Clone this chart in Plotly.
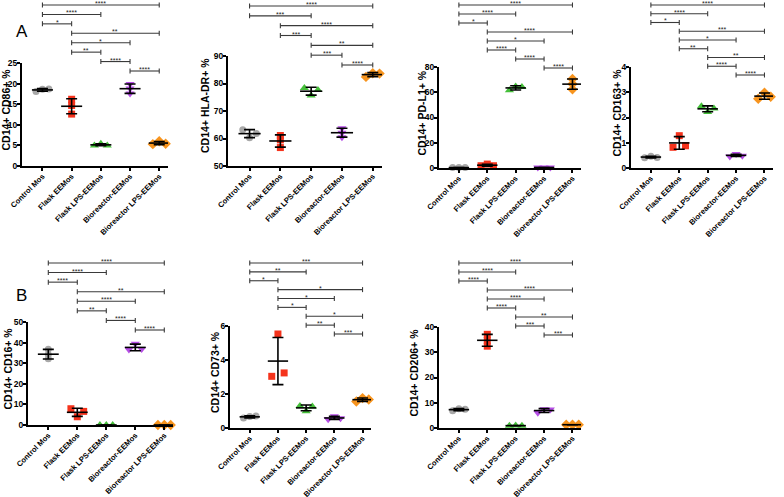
import numpy as np
import plotly.graph_objects as go

# groupes de l'expérience
groups = ["Control Mos", "Flask EEMos", "Flask LPS-EEMos", "Bioreactor-EEMos", "Bioreactor LPS-EEMos"]

# valeurs (3 réplicats par groupe)
cd86 = [[18.1, 18.6, 18.7], [16.2, 14.7, 12.6], [5.0, 5.4, 5.0], [19.9, 18.8, 17.6], [5.3, 6.0, 5.4]]
hla_dr = [[63.2, 60.3, 61.8], [61.1, 59.5, 56.7], [78.4, 75.6, 77.6], [63.7, 62.1, 60.5], [82.4, 83.7, 83.6]]
pd_l1 = [[0.3, 0.3, 0.3], [1.8, 3.1, 1.8], [61.5, 64.6, 64.2], [0.4, 0.4, 0.4], [70.5, 66.5, 62.3]]
cd163 = [[0.41, 0.47, 0.42], [0.82, 1.28, 0.88], [2.45, 2.22, 2.36], [0.46, 0.55, 0.49], [2.74, 2.98, 2.82]]
cd16 = [[36.8, 34.2, 32.1], [7.9, 4.0, 6.6], [0.0, 0.0, 0.0], [36.6, 39.5, 36.9], [0.0, 0.0, 0.0]]
cd73 = [[0.59, 0.67, 0.71], [3.04, 5.53, 3.24], [1.30, 0.99, 1.26], [0.51, 0.69, 0.57], [1.56, 1.76, 1.68]]
cd206 = [[6.8, 7.6, 7.4], [37.1, 34.7, 32.4], [0.9, 1.0, 0.9], [6.0, 7.4, 7.3], [1.3, 1.3, 1.3]]

# comparaisons (groupe i, groupe j, significativité), du haut vers le bas
comp_cd86 = [(0, 4, "****"), (0, 2, "****"), (0, 1, "*"), (1, 4, "**"), (1, 3, "*"), (1, 2, "**"), (2, 3, "****"), (3, 4, "****")]
comp_hla = [(0, 4, "****"), (0, 2, "***"), (1, 4, "****"), (1, 2, "***"), (2, 4, "**"), (2, 3, "***"), (3, 4, "****")]
comp_pdl1 = [(0, 4, "****"), (0, 2, "****"), (0, 1, "*"), (1, 4, "****"), (1, 3, "*"), (1, 2, "****"), (2, 3, "****"), (3, 4, "****")]
comp_cd163 = [(0, 4, "****"), (0, 2, "****"), (0, 1, "*"), (1, 4, "***"), (1, 3, "*"), (1, 2, "**"), (2, 4, "**"), (2, 3, "****"), (3, 4, "****")]
comp_cd16 = [(0, 4, "****"), (0, 2, "****"), (0, 1, "****"), (1, 4, "**"), (1, 3, "****"), (1, 2, "**"), (2, 3, "****"), (3, 4, "****")]
comp_cd73 = [(0, 4, "***"), (0, 2, "**"), (0, 1, "*"), (1, 4, "*"), (1, 3, "*"), (1, 2, "*"), (2, 4, "*"), (2, 3, "**"), (3, 4, "***")]
comp_cd206 = [(0, 4, "****"), (0, 2, "****"), (0, 1, "****"), (1, 4, "****"), (1, 3, "****"), (1, 2, "****"), (2, 4, "**"), (2, 3, "***"), (3, 4, "***")]

W, H = 784, 497
FONT = "Arial, Liberation Sans, sans-serif"
colors = ["#A8A8A8", "#F5331C", "#45BF3A", "#B64EE6", "#F7941E"]
symbols = ["circle", "square", "triangle-up", "triangle-down", "diamond"]
sizes = [7, 7, 8, 8, 8]

# position des panneaux en pixels : gauche, droite, haut, bas
panels = [
    dict(vals=cd86, comps=comp_cd86, title="CD14+ CD86+ %", yr=[0, 25], dtick=5, box=(22, 168, 63, 166), tx=5, br=(5, 71)),
    dict(vals=hla_dr, comps=comp_hla, title="CD14+ HLA-DR+ %", yr=[50, 90], dtick=10, box=(228, 382, 56, 166), tx=205, br=(6, 65)),
    dict(vals=pd_l1, comps=comp_pdl1, title="CD14+ PD-L1+ %", yr=[0, 80], dtick=20, box=(439, 581, 67, 168), tx=422, br=(5, 68)),
    dict(vals=cd163, comps=comp_cd163, title="CD14+ CD163+ %", yr=[0, 4], dtick=1, box=(631, 773, 67, 168), tx=617, br=(5, 75)),
    dict(vals=cd16, comps=comp_cd16, title="CD14+ CD16+ %", yr=[0, 50], dtick=10, box=(28, 173, 322, 425), tx=7, br=(263, 330)),
    dict(vals=cd73, comps=comp_cd73, title="CD14+ CD73+ %", yr=[0, 6], dtick=2, box=(230, 371, 326, 428), tx=215, br=(263, 334)),
    dict(vals=cd206, comps=comp_cd206, title="CD14+ CD206+ %", yr=[0, 40], dtick=10, box=(439, 581, 327, 428), tx=413, br=(263, 335)),
]


def py(v):
    return 1 - v / H


fig = go.Figure()
shapes = []
annotations = []

for k, p in enumerate(panels, start=1):
    sfx = "" if k == 1 else str(k)
    xa, ya = "x" + sfx, "y" + sfx
    l, r, t, b = p["box"]
    px_per_unit = (b - t) / (p["yr"][1] - p["yr"][0])

    for g, vals in enumerate(p["vals"]):
        v = np.array(vals)
        # étaler horizontalement les points qui se chevauchent
        gaps = np.diff(np.sort(v)) * px_per_unit
        spread = 0.22 if gaps.min() < 4.2 else 0.0
        xs = g + np.array([-spread, 0, spread])
        fig.add_trace(go.Scatter(
            x=xs, y=v, xaxis=xa, yaxis=ya, mode="markers", cliponaxis=False,
            marker=dict(symbol=symbols[g], size=sizes[g], color=colors[g]),
            showlegend=False, hoverinfo="y",
        ))
        mean, sd = v.mean(), v.std(ddof=1)
        # moyenne et écart-type
        fig.add_trace(go.Scatter(
            x=[g - 0.36, g + 0.36], y=[mean, mean], xaxis=xa, yaxis=ya, mode="lines",
            line=dict(color="black", width=1.6), showlegend=False, hoverinfo="skip", cliponaxis=False,
        ))
        fig.add_trace(go.Scatter(
            x=[g], y=[mean], xaxis=xa, yaxis=ya, mode="markers",
            marker=dict(size=1, color="rgba(0,0,0,0)"),
            error_y=dict(type="data", array=[sd], color="black", thickness=1.6, width=5.5),
            showlegend=False, hoverinfo="skip", cliponaxis=False,
        ))

    fig.update_layout({
        "xaxis" + sfx: dict(
            domain=[l / W, r / W], anchor=ya, range=[-0.7, 4.3], automargin=False,
            tickvals=list(range(5)), ticktext=groups, tickangle=-45,
            showline=True, linewidth=2, linecolor="black", showgrid=False, zeroline=False,
            ticks="outside", ticklen=3, tickwidth=1.5, tickcolor="black", ticklabelstandoff=-2,
            tickfont=dict(family=FONT, size=7.6, color="black", weight="bold"),
        ),
        "yaxis" + sfx: dict(
            domain=[py(b), py(t)], anchor=xa, range=p["yr"], dtick=p["dtick"], automargin=False,
            showline=True, linewidth=2, linecolor="black", showgrid=False, zeroline=False,
            ticks="outside", ticklen=3, tickwidth=1.5, tickcolor="black", ticklabelstandoff=-2,
            tickfont=dict(family=FONT, size=8.5, color="black", weight="bold"),
        ),
    })

    annotations.append(dict(
        x=p["tx"] / W, y=py((t + b) / 2 - 5), xref="paper", yref="paper",
        xanchor="center", yanchor="middle",
        text=p["title"], textangle=-90, showarrow=False,
        font=dict(family=FONT, size=10.5, color="black", weight="bold"),
    ))

    # barres de significativité
    top, bot = p["br"]
    n = len(p["comps"])
    step = (bot - top) / (n - 1)
    for idx, (i, j, s) in enumerate(p["comps"]):
        yb = top + idx * step
        line = dict(color="#3a3a3a", width=1.1)
        shapes.append(dict(type="line", xref=xa, yref="paper", x0=i, x1=j, y0=py(yb), y1=py(yb), line=line))
        for xe in (i, j):
            shapes.append(dict(type="line", xref=xa, yref="paper", x0=xe, x1=xe,
                               y0=py(yb - 2.5), y1=py(yb + 2.5), line=line))
        annotations.append(dict(
            x=(i + j) / 2, y=py(yb - 1.5), xref=xa, yref="paper", text=s,
            showarrow=False, xanchor="center", yanchor="middle",
            font=dict(family=FONT, size=7, color="#222"),
        ))

for letter, lx, ly in [("A", 22, 32), ("B", 21, 295)]:
    annotations.append(dict(x=lx / W, y=py(ly), xref="paper", yref="paper", text=letter,
                            showarrow=False, xanchor="center", yanchor="middle",
                            font=dict(family=FONT, size=17, color="black")))

fig.update_layout(
    width=W, height=H,
    margin=dict(l=0, r=0, t=0, b=0),
    paper_bgcolor="white", plot_bgcolor="white",
    shapes=shapes, annotations=annotations,
    showlegend=False,
)

# la page a une marge par défaut de 8 px : on la retire
fig.write_html(
    "out.html",
    config={"displayModeBar": False},
    post_script="document.body.style.margin='0';document.body.style.overflow='hidden';",
)
